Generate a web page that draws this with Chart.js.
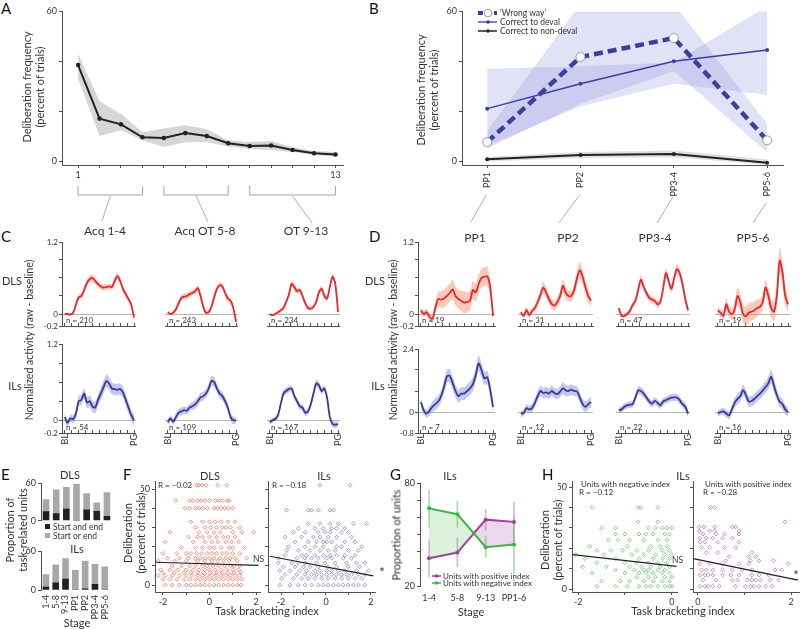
<!DOCTYPE html>
<html>
<head>
<meta charset="utf-8">
<title>Deliberation and task bracketing</title>
<script src="https://cdn.jsdelivr.net/npm/chart.js@4.4.1/dist/chart.umd.min.js"></script>
<style>
  body { margin: 0; background: #fff; }
  #fig { position: relative; width: 800px; height: 629px; overflow: hidden; font-family: Lato, sans-serif; color: #333; }
  #fig canvas { position: absolute; }
  .t { position: absolute; white-space: nowrap; line-height: 1; }
  .r { position: absolute; white-space: nowrap; line-height: 1.2; text-align: center; transform: translate(-50%, -50%) rotate(-90deg); }
  svg { position: absolute; left: 0; top: 0; z-index: 2; }
</style>
</head>
<body>
<div id="fig"></div>
<script>
// ---- A: deliberation over training sessions ----
const stageNums = [1, 2, 3, 4, 5, 6, 7, 8, 9, 10, 11, 12, 13];
const aMean = [38.5, 17, 14.7, 9.5, 9.2, 11.2, 10, 7.1, 6, 6.2, 4.4, 3.1, 2.6];
const aUpper = [43, 24, 19, 11.5, 13, 14.3, 12.7, 8.3, 7.6, 8, 5.6, 4, 3.6];
const aLower = [33, 10, 12.3, 8.3, 5.6, 7.5, 7.6, 5.8, 4.8, 4.4, 3.6, 2.4, 1.7];
const aGroups = [[1, 4], [5, 8], [9, 13]];

// ---- B: post-devaluation probes ----
const ppLabels = ['PP1', 'PP2', 'PP3-4', 'PP5-6'];
const ppX = [0, 1, 2, 3];
const wrongWay = [7.6, 41.7, 49.3, 8.3];
const wrongHi = [12, 63, 63, 15];
const wrongLo = [5, 23, 36, 3.5];
const toDeval = [21, 31, 40, 44.5];
const devalHi = [37, 38, 39.5, 62];
const devalLo = [6, 22, 31, 26.5];
const toNonDeval = [0.7, 2.4, 2.8, -0.7];
const nonDevalHi = [1.6, 3.6, 4.2, 0.6];
const nonDevalLo = [-0.2, 1.2, 1.5, -1.6];

// ---- C / D: population activity, BL to PG ----
const traceTicks = [0, 2.5, 5, 7.5, 10, 12.5, 15, 17.5, 20, 22.5, 25];
const cDls1 = [0, 0, -0.01, 0.02, 0.15, 0.28, 0.3, 0.4, 0.52, 0.58, 0.6, 0.55, 0.5, 0.46, 0.44, 0.45, 0.46, 0.45, 0.55, 0.63, 0.55, 0.42, 0.33, 0.25, 0.15, -0.06];
const cDls1Sem = [0.02, 0.02, 0.02, 0.03, 0.04, 0.05, 0.05, 0.05, 0.06, 0.06, 0.06, 0.06, 0.05, 0.05, 0.05, 0.05, 0.05, 0.05, 0.06, 0.06, 0.06, 0.05, 0.05, 0.04, 0.04, 0.03];
const cDls2 = [0.03, 0, 0.02, 0.08, 0.18, 0.27, 0.29, 0.3, 0.33, 0.35, 0.38, 0.43, 0.3, 0.12, 0.02, 0.03, 0.12, 0.28, 0.42, 0.48, 0.46, 0.35, 0.26, 0.22, 0.1, -0.13];
const cDls2Sem = [0.02, 0.02, 0.03, 0.04, 0.05, 0.05, 0.05, 0.05, 0.05, 0.05, 0.05, 0.05, 0.05, 0.04, 0.04, 0.04, 0.04, 0.05, 0.05, 0.05, 0.05, 0.05, 0.05, 0.04, 0.04, 0.03];
const cDls3 = [0, -0.02, 0, 0.03, 0.06, 0.1, 0.2, 0.32, 0.5, 0.45, 0.38, 0.4, 0.3, 0.18, 0.1, 0.09, 0.12, 0.2, 0.36, 0.42, 0.3, 0.26, 0.45, 0.62, 0.5, 0.03];
const cDls3Sem = [0.02, 0.02, 0.02, 0.03, 0.03, 0.04, 0.04, 0.05, 0.05, 0.05, 0.05, 0.05, 0.04, 0.04, 0.04, 0.04, 0.04, 0.04, 0.05, 0.05, 0.05, 0.05, 0.05, 0.05, 0.05, 0.03];
const cIls1 = [0.05, -0.04, 0.03, 0.02, 0.1, 0.3, 0.32, 0.42, 0.28, 0.3, 0.22, 0.2, 0.32, 0.42, 0.52, 0.62, 0.58, 0.5, 0.49, 0.48, 0.49, 0.44, 0.32, 0.2, 0.08, 0];
const cIls1Sem = [0.06, 0.06, 0.06, 0.06, 0.07, 0.08, 0.08, 0.08, 0.09, 0.09, 0.09, 0.09, 0.09, 0.1, 0.1, 0.1, 0.1, 0.09, 0.09, 0.09, 0.09, 0.09, 0.09, 0.09, 0.09, 0.08];
const cIls2 = [-0.03, 0.03, -0.02, 0.05, 0.12, 0.14, 0.16, 0.15, 0.2, 0.22, 0.25, 0.3, 0.36, 0.38, 0.42, 0.5, 0.62, 0.6, 0.5, 0.42, 0.38, 0.3, 0.2, 0.05, 0, 0];
const cIls2Sem = [0.05, 0.05, 0.05, 0.06, 0.06, 0.06, 0.06, 0.06, 0.06, 0.06, 0.07, 0.07, 0.07, 0.07, 0.07, 0.07, 0.08, 0.08, 0.07, 0.07, 0.07, 0.07, 0.07, 0.06, 0.06, 0.05];
const cIls3 = [-0.03, 0, 0.02, 0.08, 0.25, 0.42, 0.46, 0.49, 0.5, 0.38, 0.3, 0.22, 0.2, 0.12, 0.14, 0.25, 0.42, 0.58, 0.55, 0.46, 0.5, 0.35, 0.05, -0.06, -0.07, -0.06];
const cIls3Sem = [0.04, 0.04, 0.04, 0.05, 0.05, 0.05, 0.05, 0.05, 0.05, 0.05, 0.05, 0.05, 0.05, 0.05, 0.05, 0.05, 0.05, 0.06, 0.06, 0.05, 0.05, 0.05, 0.05, 0.05, 0.05, 0.04];
const dDls1 = [0.06, 0, 0.03, -0.05, -0.08, 0.1, 0.25, 0.24, 0.26, 0.3, 0.35, 0.41, 0.3, 0.25, 0.22, 0.19, 0.2, 0.22, 0.4, 0.36, 0.5, 0.6, 0.62, 0.63, 0.45, -0.03];
const dDls1Sem = [0.05, 0.05, 0.06, 0.06, 0.07, 0.1, 0.12, 0.14, 0.15, 0.15, 0.15, 0.16, 0.16, 0.16, 0.17, 0.18, 0.17, 0.16, 0.15, 0.15, 0.15, 0.16, 0.16, 0.16, 0.14, 0.08];
const dDls2 = [0.03, -0.03, 0.07, -0.02, 0.05, 0.1, 0.2, 0.32, 0.44, 0.36, 0.25, 0.17, 0.14, 0.2, 0.3, 0.47, 0.35, 0.3, 0.3, 0.4, 0.6, 0.73, 0.62, 0.45, 0.3, 0.22];
const dDls2Sem = [0.04, 0.04, 0.05, 0.05, 0.05, 0.06, 0.07, 0.08, 0.1, 0.09, 0.08, 0.08, 0.08, 0.08, 0.09, 0.11, 0.1, 0.09, 0.09, 0.1, 0.12, 0.14, 0.13, 0.12, 0.11, 0.1];
const dDls3 = [0.1, -0.03, -0.03, 0, 0.05, 0.15, 0.22, 0.4, 0.57, 0.45, 0.35, 0.27, 0.24, 0.22, 0.16, 0.2, 0.42, 0.68, 0.55, 0.42, 0.6, 0.75, 0.68, 0.5, 0.25, 0.06];
const dDls3Sem = [0.04, 0.04, 0.04, 0.04, 0.05, 0.05, 0.06, 0.07, 0.08, 0.07, 0.06, 0.06, 0.06, 0.06, 0.06, 0.06, 0.07, 0.08, 0.07, 0.06, 0.07, 0.08, 0.08, 0.07, 0.06, 0.05];
const dDls4 = [0.06, 0.02, -0.03, 0.16, 0.04, 0, 0.08, 0.3, 0.2, 0, -0.04, 0.02, 0.04, 0.06, 0.1, 0.12, 0.2, 0.44, 0.3, 0.1, 0.04, 0.3, 0.89, 0.7, 0.3, 0.16];
const dDls4Sem = [0.06, 0.07, 0.08, 0.1, 0.1, 0.1, 0.12, 0.15, 0.14, 0.15, 0.16, 0.16, 0.15, 0.15, 0.14, 0.13, 0.12, 0.13, 0.14, 0.16, 0.16, 0.18, 0.22, 0.2, 0.16, 0.12];
const dIls1 = [0.38, 0.05, -0.06, 0.05, 0.2, 0.3, 0.4, 0.6, 0.95, 1.35, 1.38, 1.1, 0.8, 0.6, 0.7, 0.7, 0.8, 0.9, 1.05, 1.4, 1.85, 1.6, 1.28, 1.32, 0.85, 0.19];
const dIls1Sem = [0.15, 0.15, 0.15, 0.18, 0.2, 0.22, 0.22, 0.22, 0.24, 0.25, 0.25, 0.25, 0.25, 0.25, 0.25, 0.25, 0.25, 0.25, 0.26, 0.28, 0.3, 0.28, 0.26, 0.26, 0.24, 0.2];
const dIls2 = [-0.06, -0.04, 0.15, 0.1, 0.15, 0.35, 0.6, 0.8, 0.72, 0.75, 0.7, 0.8, 0.72, 0.68, 0.78, 0.9, 0.82, 0.8, 0.85, 0.8, 0.78, 0.55, 0.3, 0.2, 0.3, 0.38];
const dIls2Sem = [0.12, 0.12, 0.14, 0.15, 0.16, 0.18, 0.2, 0.2, 0.2, 0.2, 0.2, 0.2, 0.2, 0.2, 0.2, 0.22, 0.22, 0.2, 0.2, 0.2, 0.2, 0.2, 0.2, 0.2, 0.2, 0.2];
const dIls3 = [0.06, 0.1, 0.2, 0.25, 0.28, 0.3, 0.55, 0.82, 0.8, 0.7, 0.55, 0.4, 0.32, 0.42, 0.35, 0.25, 0.4, 0.45, 0.5, 0.55, 0.56, 0.55, 0.45, 0.3, 0.2, -0.06];
const dIls3Sem = [0.12, 0.12, 0.12, 0.12, 0.13, 0.13, 0.14, 0.15, 0.15, 0.15, 0.14, 0.14, 0.13, 0.13, 0.13, 0.13, 0.13, 0.13, 0.14, 0.14, 0.14, 0.14, 0.14, 0.14, 0.15, 0.15];
const dIls4 = [-0.06, 0, 0.02, -0.06, -0.13, 0.1, 0.35, 0.5, 0.6, 0.83, 0.65, 0.4, 0.42, 0.5, 0.6, 0.7, 0.82, 0.95, 1.1, 1.34, 1, 0.65, 0.4, 0.3, 0.1, 0];
const dIls4Sem = [0.12, 0.12, 0.13, 0.14, 0.15, 0.17, 0.19, 0.2, 0.2, 0.22, 0.2, 0.2, 0.2, 0.2, 0.2, 0.2, 0.22, 0.22, 0.24, 0.26, 0.24, 0.22, 0.2, 0.2, 0.18, 0.16];
const cDlsN = [210, 243, 234];
const cIlsN = [54, 109, 167];
const dDlsN = [19, 31, 47, 19];
const dIlsN = [7, 12, 22, 16];

// ---- E: task-related units ----
const eStages = ['1-4', '5-8', '9-13', 'PP1', 'PP2', 'PP3-4', 'PP5-6'];
const eX = [0, 1, 2, 3, 4, 5, 6];
const eDlsBoth = [14.5, 11.5, 18.5, 0, 17.5, 15, 7];
const eDlsEither = [19.5, 38, 35, 59, 26, 13.5, 38];
const eIlsBoth = [4.5, 11, 17, 0, 2, 9, 0];
const eIlsEither = [19.5, 28, 32, 30.5, 43, 31, 36];

// ---- F: deliberation vs bracketing index ----
const fDlsLevels = [52, 44, 40, 33, 30, 27.5, 25, 22.5, 19.5, 16.5, 14, 12.5, 10, 8, 6.5, 5, 3, 0];
const fDlsX = [
  [-0.55, -0.45, -0.3, -0.15, 0.35, 0.75],
  [-1.45, -0.85, -0.7, -0.5, -0.35, -0.2, 0, 0.25, 0.4, 0.55, 0.75, 0.85],
  [-1.05, -0.85, -0.6, -0.45, -0.3, -0.1, 0.2, 0.35, 0.5, 0.65, 0.8, 1.0],
  [-0.8, -0.3, 0, 0.25, 0.5, 0.8, 1.1],
  [-0.6, -0.2, 0.05, 0.3, 0.55, 0.7, 0.9, 1.3],
  [-1.7, -0.45, -0.1, 0.2, 0.45, 1.0, 1.4, 1.9],
  [-0.9, -0.5, -0.3, 0, 0.3, 0.6, 0.8, 1.1],
  [-1.9, -0.7, -0.2, 0.1, 0.35, 0.7, 0.95, 1.25],
  [-1.2, -0.6, -0.3, 0, 0.2, 0.5, 0.85, 1.0, 1.5],
  [-2.0, -1.4, -1.0, -0.8, -0.55, -0.35, -0.1, 0.1, 0.3, 0.55, 0.75, 1.0, 1.3],
  [-1.8, -1.3, -0.9, -0.6, -0.4, -0.2, 0, 0.2, 0.45, 0.7, 0.9, 1.1, 1.6],
  [-2.2, -1.5, -1.0, -0.5, -0.2, 0.1, 0.35, 0.6, 0.85, 1.2],
  [-1.6, -1.2, -0.85, -0.6, -0.3, -0.1, 0.15, 0.4, 0.65, 0.9, 1.05, 1.3],
  [-2.1, -1.7, -1.35, -1.0, -0.7, -0.45, -0.2, 0, 0.25, 0.5, 0.75, 1.0, 1.25],
  [-2.0, -1.5, -1.1, -0.8, -0.5, -0.25, 0.05, 0.3, 0.55, 0.8, 1.05, 1.35],
  [-2.2, -1.9, -1.6, -1.3, -1.0, -0.75, -0.5, -0.3, -0.1, 0.1, 0.3, 0.5, 0.7, 0.9, 1.1, 1.3],
  [-2.0, -1.7, -1.4, -1.1, -0.85, -0.6, -0.4, -0.2, 0, 0.2, 0.4, 0.6, 0.8, 1.0, 1.2, 1.4],
  [-1.9, -1.6, -1.3, -1.0, -0.8, -0.6, -0.4, -0.2, 0, 0.2, 0.4, 0.6, 0.8, 1.0, 1.2, 1.35],
];
const fDlsFitX = [-2.3, 2.1];
const fDlsFitY = [11.9, 10.3];
const fIlsLevels = [52, 39, 32, 29.5, 27.5, 25, 22.5, 20, 18, 15.5, 14, 11.5, 9.5, 7.5, 5.5, 3.5, 0];
const fIlsX = [
  [-0.27, 1.07],
  [-1.75, -0.79, -0.64, -0.34, 0.18, 0.33],
  [-0.79, -0.27, 0.18, 0.55, 1.22, 1.8],
  [-1.23, -0.49, -0.12, 0.25, 0.47, 0.84],
  [-1.45, -0.93, -0.34, -0.04, 0.18, 0.7, 1.0],
  [-1.82, -1.08, -0.56, -0.27, 0.1, 0.47, 1.14],
  [-1.38, -0.79, -0.42, -0.12, 0.03, 0.25, 0.84, 1.29],
  [-1.67, -0.93, -0.49, -0.12, 0.47, 0.7, 1.59],
  [-1.75, -1.23, -0.71, -0.27, 0.1, 0.4, 1.0, 1.44],
  [-1.82, -1.08, -0.86, -0.49, -0.12, 0.18, 0.47, 0.84, 1.29],
  [-2.12, -1.3, -0.93, -0.64, -0.34, 0.03, 0.25, 0.77, 1.14],
  [-2.12, -1.53, -1.23, -0.93, -0.42, -0.04, 0.4, 0.92, 1.36, 1.73],
  [-1.9, -1.38, -1.0, -0.71, -0.34, 0.1, 0.47, 0.99, 1.5],
  [-2.05, -1.6, -1.16, -0.86, -0.49, -0.27, 0.03, 0.25, 0.55, 0.84, 1.36, 1.88],
  [-1.82, -1.3, -0.93, -0.64, -0.42, -0.19, 0.03, 0.25, 0.47, 0.7, 0.92, 1.14, 1.44, 1.73],
  [-1.97, -1.45, -1.08, -0.79, -0.49, -0.19, 0.1, 0.4, 0.7, 0.99, 1.29, 1.59],
  [-2.05, -1.6, -1.23, -0.93, -0.64, -0.34, -0.12, 0.1, 0.33, 0.55, 0.77, 0.99, 1.22, 1.44, 1.73],
];
const fIlsFitX = [-2.5, 2.1];
const fIlsFitY = [15, 4.8];

// ---- G: proportion of ILs units by index sign ----
const gStages = ['1-4', '5-8', '9-13', 'PP1-6'];
const gX = [0, 1, 2, 3];
const gPos = [36.2, 39.6, 58.8, 57.5];
const gPosErr = [11, 8.4, 6, 11.5];
const gNeg = [65.4, 62, 42.7, 44.2];
const gNegErr = [11, 7.6, 6, 17];

// ---- H: ILs split by index sign ----
const hNegLevels = [40, 33, 30, 27, 24, 21, 19, 17, 15, 13, 11, 9.5, 8, 6, 4, 1.5];
const hNegX = [
  [-1.7, -0.72, -0.66, -0.3],
  [-0.72, -0.3],
  [-1.5, -1.2, -0.5, -0.35, -0.2, -0.1, 0],
  [-1.2, -1.0, -0.7, -0.55, -0.4, -0.15, -0.05],
  [-1.35, -1.15, -0.9, -0.6, -0.3, -0.1],
  [-1.75, -0.95, -0.45, -0.25, -0.1],
  [-1.6, -1.3, -1.05, -0.75, -0.5, -0.2, -0.05],
  [-2.05, -1.45, -0.85, -0.6, -0.35, -0.15, 0],
  [-1.85, -1.2, -0.7, -0.4, -0.2, -0.05],
  [-1.6, -1.0, -0.75, -0.5, -0.3, -0.1],
  [-1.9, -1.4, -0.9, -0.65, -0.45, -0.25, -0.05],
  [-1.2, -0.8, -0.6, -0.5, -0.3, -0.15],
  [-1.7, -1.0, -0.7, -0.55, -0.4, -0.2, -0.05],
  [-0.75, -0.5, -0.35, -0.15, 0],
  [-1.5, -1.1, -0.9, -0.6, -0.4, -0.2, -0.05],
  [-1.6, -1.2, -0.95, -0.7, -0.55, -0.45, -0.3, -0.15, -0.05, 0],
];
const hNegFitX = [-2.11, 0.1];
const hNegFitY = [17, 11.2];
const hPosLevels = [40, 33, 30.5, 28.5, 27, 25, 23, 20.5, 18, 16, 14, 12.5, 9.5, 7, 4.5, 1.5];
const hPosX = [
  [0.27, 0.36],
  [1.87],
  [0.03, 0.13, 0.36, 0.74, 0.81],
  [0.03, 0.25, 0.36, 0.88],
  [0.11, 0.39, 0.57, 0.88],
  [0.04, 0.18, 0.32, 0.53, 0.74],
  [0.04, 0.15, 0.43, 0.88],
  [0.08, 0.25, 0.57, 0.81],
  [0.18, 0.43, 1.16],
  [0.67, 1.09, 1.24],
  [0.6, 1.13, 1.31, 1.62],
  [0.04, 0.25, 0.53, 0.88, 1.09, 1.94],
  [0.08, 0.18, 0.32, 0.53, 0.74, 0.95, 1.16, 1.66, 1.8],
  [0.04, 0.15, 0.22, 0.32, 0.53, 0.71, 0.88, 1.16, 1.31, 1.52],
  [0.11, 0.39, 0.74, 0.85, 1.06, 1.16, 1.24, 1.34, 1.55, 1.73],
  [0.04, 0.15, 0.22, 0.32, 0.46, 0.81, 1.02, 1.13, 1.2, 1.31, 1.45, 1.59],
];
const hPosFitX = [-0.1, 2.15];
const hPosFitY = [15, 4.5];

// ---- styling ----
const AX = '#505050';
const BLU = '#3b3f9d';
const RED = '#e8282c', RED_BAND = 'rgba(244,150,120,0.5)';
const NAVY = '#373c92', NAVY_BAND = 'rgba(140,145,220,0.5)';
const GRN = '#3cb449', PUR = '#a23ca2';

Chart.defaults.font.family = 'Lato, sans-serif';
Chart.defaults.font.size = 9;
Chart.defaults.color = '#333';
Chart.defaults.animation = false;
Chart.defaults.responsive = false;
Chart.defaults.plugins.legend.display = false;
Chart.defaults.plugins.tooltip.enabled = false;

const fig = document.getElementById('fig');
const svg = document.createElementNS('http://www.w3.org/2000/svg', 'svg');
svg.setAttribute('width', 800);
svg.setAttribute('height', 629);
fig.appendChild(svg);

const xy = (xs, ys) => xs.map((x, i) => ({ x, y: ys[i] }));
const only = (...vals) => v => (vals.includes(v) ? String(v) : '');

// chart area given in page px; canvas grows by axis sizes + padding
function mk(area, yW, xH, config) {
  const p = 6, [l, t, r, b] = area;
  const c = document.createElement('canvas');
  c.width = r - l + yW + 2 * p;
  c.height = b - t + xH + 2 * p;
  c.style.left = (l - yW - p) + 'px';
  c.style.top = (t - p) + 'px';
  fig.appendChild(c);
  config.options = Object.assign({ layout: { padding: p } }, config.options);
  return new Chart(c, config);
}

function lin(min, max, ticks, lab, size, more = {}) {
  const o = {
    type: 'linear', min, max, offset: false,
    afterBuildTicks: s => { s.ticks = ticks.map(v => ({ value: v })); },
    afterFit: s => { if (s.isHorizontal()) s.height = size; else s.width = size; },
    ticks: { callback: v => lab(v), padding: 2, autoSkip: false, maxRotation: 0 },
    grid: { drawOnChartArea: false, tickLength: 3, color: AX, tickColor: AX },
    border: { color: AX, width: 1 },
  };
  for (const k in more) {
    o[k] = (o[k] && typeof more[k] === 'object') ? Object.assign({}, o[k], more[k]) : more[k];
  }
  return o;
}

function band(xs, ys, color) {
  return { data: xy(xs, ys), borderColor: 'rgba(0,0,0,0)', borderWidth: 0, pointRadius: 0,
    fill: color ? '+1' : false, backgroundColor: color || 'rgba(0,0,0,0)' };
}

function pageX(chart, v) { return chart.canvas.offsetLeft + chart.scales.x.getPixelForValue(v); }

function T(s, x, y, size, anchor = 'c', color = '#333') {
  const d = document.createElement('div');
  d.className = 't';
  d.textContent = s;
  const tx = anchor === 'c' ? '-50%' : anchor === 'r' ? '-100%' : '0';
  d.style.cssText = `left:${x}px;top:${y}px;font-size:${size}px;color:${color};transform:translate(${tx},-50%)`;
  fig.appendChild(d);
}

function R(lines, x, y, size) {
  const d = document.createElement('div');
  d.className = 'r';
  lines.forEach((s, i) => {
    if (i) d.appendChild(document.createElement('br'));
    d.appendChild(document.createTextNode(s));
  });
  d.style.cssText = `left:${x}px;top:${y}px;font-size:${size}px`;
  fig.appendChild(d);
}

function svgAdd(markup) { svg.insertAdjacentHTML('beforeend', markup); }
function ln(x1, y1, x2, y2, col = '#9a9a9a', w = 0.8, extra = '') {
  svgAdd(`<line x1="${x1}" y1="${y1}" x2="${x2}" y2="${y2}" stroke="${col}" stroke-width="${w}" ${extra}/>`);
}

// ---- A ----
const chartA = mk([62, 10, 343, 165], 22, 16, {
  type: 'line',
  data: { datasets: [
    { data: xy(stageNums, aMean), borderColor: '#222', borderWidth: 2, pointRadius: 2.3,
      pointBackgroundColor: '#222', pointBorderWidth: 0, tension: 0 },
    band(stageNums, aUpper, 'rgba(0,0,0,0.16)'),
    band(stageNums, aLower),
  ]},
  options: { scales: {
    x: lin(0.25, 13.35, stageNums, only(1, 13), 16),
    y: lin(-1.6, 60, [0, 20, 40, 60], only(0, 60), 22),
  }},
});

// ---- B ----
const chartB = mk([462, 10, 783, 165], 22, 32, {
  type: 'line',
  data: { datasets: [
    { data: xy(ppX, wrongWay), borderColor: BLU, borderWidth: 4.5, borderDash: [9, 5], borderCapStyle: 'butt',
      pointRadius: 4.5, pointBackgroundColor: '#fff', pointBorderColor: '#999', pointBorderWidth: 1 },
    { data: xy(ppX, toDeval), borderColor: BLU, borderWidth: 1.5, pointRadius: 2,
      pointBackgroundColor: BLU, pointBorderWidth: 0 },
    { data: xy(ppX, toNonDeval), borderColor: '#222', borderWidth: 2, pointRadius: 2,
      pointBackgroundColor: '#222', pointBorderWidth: 0 },
    band(ppX, wrongHi, 'rgba(125,125,215,0.22)'), band(ppX, wrongLo),
    band(ppX, devalHi, 'rgba(125,125,215,0.22)'), band(ppX, devalLo),
    band(ppX, nonDevalHi, 'rgba(0,0,0,0.12)'), band(ppX, nonDevalLo),
  ]},
  options: { scales: {
    x: lin(-0.27, 3.17, ppX, v => ppLabels[v], 32, { ticks: { minRotation: 90, maxRotation: 90, padding: 4 } }),
    y: lin(-1.6, 60, [0, 20, 40, 60], only(0, 60), 22),
  }},
});

// ---- C / D traces ----
function trace(area, yMin, yMax, yTicks, yLab, showY, showX, mean, sem, col, bandCol) {
  const xs = mean.map((_, i) => i);
  const hi = mean.map((v, i) => v + sem[i]);
  const lo = mean.map((v, i) => v - sem[i]);
  const zero = c => (c.tick && c.tick.value === 0 ? '#b4b4b4' : 'rgba(0,0,0,0)');
  const y = showY
    ? lin(yMin, yMax, yTicks, yLab, 18, { grid: { drawOnChartArea: true, color: zero, tickColor: AX, tickLength: 3 },
        ticks: { font: { size: 8 }, padding: 1 } })
    : lin(yMin, yMax, [0], () => '', 0, { ticks: { display: false }, border: { display: false },
        grid: { drawOnChartArea: true, drawTicks: false, color: zero } });
  const x = lin(-1, 25.7, traceTicks, v => (showX ? (v === 0 ? 'BL' : v === 25 ? 'PG' : '') : ''), showX ? 16 : 4,
    { ticks: { minRotation: 90, maxRotation: 90, padding: 4 },
      grid: { drawOnChartArea: false, tickLength: -3, color: AX, tickColor: AX } });
  return mk(area, showY ? 18 : 0, showX ? 16 : 4, {
    type: 'line',
    data: { datasets: [
      { data: xy(xs, mean), borderColor: col, borderWidth: 1.8, pointRadius: 0, tension: 0.3 },
      Object.assign(band(xs, hi, bandCol), { tension: 0.3 }),
      Object.assign(band(xs, lo), { tension: 0.3 }),
    ]},
    options: { scales: { x, y } },
  });
}

const cCols = [[62, 143], [165, 245], [267, 347]];
const dCols = [[418, 502], [518, 600], [616, 697], [715, 797]];
const cDls = [cDls1, cDls2, cDls3], cDlsSem = [cDls1Sem, cDls2Sem, cDls3Sem];
const cIls = [cIls1, cIls2, cIls3], cIlsSem = [cIls1Sem, cIls2Sem, cIls3Sem];
const dDls = [dDls1, dDls2, dDls3, dDls4], dDlsSem = [dDls1Sem, dDls2Sem, dDls3Sem, dDls4Sem];
const dIls = [dIls1, dIls2, dIls3, dIls4], dIlsSem = [dIls1Sem, dIls2Sem, dIls3Sem, dIls4Sem];
const smallTicks = [-0.2, 0, 0.3, 0.6, 0.9, 1.2];

cCols.forEach(([l, r], i) => {
  trace([l, 242, r, 326], -0.2, 1.2, smallTicks, only(-0.2, 0, 1.2), i === 0, false, cDls[i], cDlsSem[i], RED, RED_BAND);
  trace([l, 344, r, 433], -0.2, 1.2, smallTicks, only(-0.2, 0, 1.2), i === 0, true, cIls[i], cIlsSem[i], NAVY, NAVY_BAND);
  T('n = ' + cDlsN[i], l + 4, 320, 8, 'l');
  T('n = ' + cIlsN[i], l + 4, 427, 8, 'l');
});
dCols.forEach(([l, r], i) => {
  trace([l, 242, r, 326], -0.2, 1.2, smallTicks, only(-0.2, 0, 1.2), i === 0, false, dDls[i], dDlsSem[i], RED, RED_BAND);
  trace([l, 349, r, 433], -0.8, 2.4, [-0.8, 0, 0.8, 1.6, 2.4], only(-0.8, 0, 2.4), i === 0, true, dIls[i], dIlsSem[i], NAVY, NAVY_BAND);
  T('n = ' + dDlsN[i], l + 4, 320, 8, 'l');
  T('n = ' + dIlsN[i], l + 4, 427, 8, 'l');
});

// ---- E: stacked bars drawn as bar datasets on a line chart with linear axes ----
function stackBars(area, both, either, showX) {
  const xH = showX ? 30 : 0;
  return mk(area, 16, xH, {
    type: 'line',
    data: { datasets: [
      { type: 'bar', stack: 's', data: xy(eX, both), backgroundColor: '#231f20', barThickness: 6 },
      { type: 'bar', stack: 's', data: xy(eX, either), backgroundColor: '#a8a8a8', barThickness: 6 },
    ]},
    options: { scales: {
      x: lin(-0.5, 6.5, eX, v => eStages[v], xH, { display: showX, stacked: true,
        grid: { display: false }, border: { display: false },
        ticks: { minRotation: 90, maxRotation: 90, padding: 2 } }),
      y: lin(0, 60, [0, 60], only(0, 60), 16, { stacked: true }),
    }},
  });
}
stackBars([41, 482, 112, 522], eDlsBoth, eDlsEither, false);
stackBars([41, 550, 112, 590], eIlsBoth, eIlsEither, true);

// ---- F / H scatters ----
function scatter(area, xMin, xMax, xTicks, xLab, yMin, yMax, yLab, yW, levels, xsByLevel, fitX, fitY, col) {
  const pts = levels.flatMap((y, i) => xsByLevel[i].map(x => ({ x, y })));
  return mk(area, yW, 14, {
    type: 'scatter',
    data: { datasets: [
      { data: xy(fitX, fitY), showLine: true, borderColor: '#222', borderWidth: 1.2, pointRadius: 0 },
      { data: pts, pointStyle: 'rectRot', pointRadius: 1.9, pointBorderWidth: 0.8,
        pointBorderColor: col, pointBackgroundColor: 'rgba(0,0,0,0)' },
    ]},
    options: { scales: {
      x: lin(xMin, xMax, xTicks, xLab, 14),
      y: lin(yMin, yMax, [0, 10, 20, 30, 40, 50], yLab, yW),
    }},
  });
}
scatter([155, 480, 260, 592], -2.34, 2.17, [-2, -1, 0, 1, 2], only(-2, 0, 2), -3.6, 54, only(0, 50), 14,
  fDlsLevels, fDlsX, fDlsFitX, fDlsFitY, 'rgba(236,70,50,0.75)');
scatter([268, 480, 375, 592], -2.58, 2.18, [-2, -1, 0, 1, 2], only(-2, 0, 2), -3.6, 54, () => '', 4,
  fIlsLevels, fIlsX, fIlsFitX, fIlsFitY, 'rgba(80,80,180,0.7)');
scatter([572, 480, 677, 592], -2.13, 0.11, [-2, -1, 0], only(-2, 0), -1.3, 52.75, only(0, 50), 14,
  hNegLevels, hNegX, hNegFitX, hNegFitY, 'rgba(60,170,60,0.75)');
scatter([693, 480, 799, 592], -0.105, 2.17, [0, 1, 2], only(0, 2), -1.3, 52.75, () => '', 4,
  hPosLevels, hPosX, hPosFitX, hPosFitY, 'rgba(160,60,160,0.7)');

// ---- G ----
mk([420, 482, 527, 586], 16, 16, {
  type: 'line',
  data: { datasets: [
    { data: xy(gX, gNeg), borderColor: GRN, borderWidth: 2, pointRadius: 2, pointBackgroundColor: GRN, pointBorderWidth: 0,
      fill: { target: 1, above: 'rgba(90,190,90,0.22)', below: 'rgba(160,80,170,0.22)' } },
    { data: xy(gX, gPos), borderColor: PUR, borderWidth: 2, pointRadius: 2, pointBackgroundColor: PUR, pointBorderWidth: 0 },
    { type: 'bar', data: gX.map((x, i) => ({ x, y: [gNeg[i] - gNegErr[i], gNeg[i] + gNegErr[i]] })),
      backgroundColor: 'rgba(90,190,90,0.5)', barThickness: 1, grouped: false },
    { type: 'bar', data: gX.map((x, i) => ({ x, y: [gPos[i] - gPosErr[i], gPos[i] + gPosErr[i]] })),
      backgroundColor: 'rgba(170,90,170,0.45)', barThickness: 1, grouped: false },
  ]},
  options: { scales: {
    x: lin(-0.32, 3.46, gX, v => gStages[v], 16, { border: { display: false }, grid: { display: false }, ticks: { padding: 4 } }),
    y: lin(20, 80, [20, 30, 40, 50, 60, 70, 80], only(20, 80), 16),
  }},
});

// ---- annotation lines ----
const aLeadEnds = [[102, 221], [208, 222], [312, 223]];
aGroups.forEach(([s, e], i) => {
  const x1 = pageX(chartA, s), x2 = pageX(chartA, e);
  svgAdd(`<polyline points="${x1},186 ${x1},195 ${x2},195 ${x2},186" fill="none" stroke="#9a9a9a" stroke-width="0.9"/>`);
  ln((x1 + x2) / 2, 196, aLeadEnds[i][0], aLeadEnds[i][1]);
});
const bLeadTop = [195, 195, 197, 203];
const bLeadEnds = [[471, 222], [559, 223], [657, 223], [753, 223]];
ppX.forEach((v, i) => ln(pageX(chartB, v) - 1, bLeadTop[i], bLeadEnds[i][0], bLeadEnds[i][1]));

// legends
ln(478, 13, 497, 13, BLU, 4, 'stroke-dasharray="5,3"');
svgAdd(`<circle cx="488" cy="13" r="3.8" fill="#fff" stroke="#999" stroke-width="1"/>`);
ln(478, 22, 497, 22, BLU, 1.3);
svgAdd(`<circle cx="488" cy="22" r="1.8" fill="${BLU}"/>`);
ln(478, 31, 497, 31, '#222', 1.5);
svgAdd(`<circle cx="488" cy="31" r="1.8" fill="#222"/>`);
svgAdd(`<rect x="45" y="524" width="5" height="5" fill="#231f20"/><rect x="45" y="533" width="5" height="5" fill="#a8a8a8"/>`);
ln(432, 576, 441, 576, PUR, 1.5);
svgAdd(`<circle cx="436.5" cy="576" r="1.8" fill="${PUR}"/>`);
ln(432, 583, 441, 583, GRN, 1.5);
svgAdd(`<circle cx="436.5" cy="583" r="1.8" fill="${GRN}"/>`);

// ---- text ----
[['A', 1, 8], ['B', 369, 8], ['C', 1, 236], ['D', 369, 236], ['E', 1, 474], ['F', 123, 474], ['G', 390, 474], ['H', 542, 474]]
  .forEach(([s, x, y]) => T(s, x, y, 15, 'l', '#111'));

R(['Deliberation frequency', '(percent of trials)'], 33, 87, 11);
R(['Deliberation frequency', '(percent of trials)'], 427, 90, 11);
T('\u2018Wrong way\u2019', 500, 13, 8.5, 'l');
T('Correct to deval', 500, 22, 8.5, 'l');
T('Correct to non-deval', 500, 31, 8.5, 'l');

T('Acq 1-4', 105, 231, 12);
T('Acq OT 5-8', 205, 231, 12);
T('OT 9-13', 306, 231, 12);
ppLabels.forEach((s, i) => T(s, [475, 568, 655, 753][i], 238, 12));
R(['Normalized activity (raw - baseline)'], 29, 340, 10.5);
R(['Normalized activity (raw - baseline)'], 393, 340, 10.5);
T('DLS', 12, 280, 11);
T('ILs', 15, 385, 11);
T('DLS', 375, 280, 11);
T('ILs', 378, 385, 11);

T('DLS', 70, 474, 11);
T('ILs', 77, 548, 11);
T('Stage', 77, 622, 11);
R(['Proportion of', 'task-related units'], 16, 530, 11);
T('Start and end', 53, 527, 8.5, 'l');
T('Start or end', 53, 536, 8.5, 'l');

T('DLS', 210, 475, 11);
T('ILs', 324, 475, 11);
T('R = \u22120.02', 158, 485, 8, 'l');
T('R = \u22120.18', 272, 485, 8, 'l');
T('NS', 253, 559, 8.5, 'l');
T('*', 382, 572, 13);
T('Task bracketing index', 267, 610, 11);
R(['Deliberation', '(percent of trials)'], 134, 533, 11);

T('ILs', 450, 475, 11);
R(['Proportion of units'], 396, 535, 11);
T('Stage', 471, 611, 11);
T('Units with positive index', 443, 576, 8, 'l');
T('Units with negative index', 443, 583, 8, 'l');

T('ILs', 683, 475, 11);
T('Units with negative index', 581, 484, 8, 'l');
T('R = \u22120.12', 579, 492, 8, 'l');
T('NS', 672, 560, 8.5, 'l');
T('Units with positive index', 705, 484, 8, 'l');
T('R = \u22120.28', 703, 492, 8, 'l');
T('*', 796, 575, 13);
T('Task bracketing index', 683, 610, 11);
R(['Deliberation', '(percent of trials)'], 551, 540, 11);
</script>
</body>
</html>
